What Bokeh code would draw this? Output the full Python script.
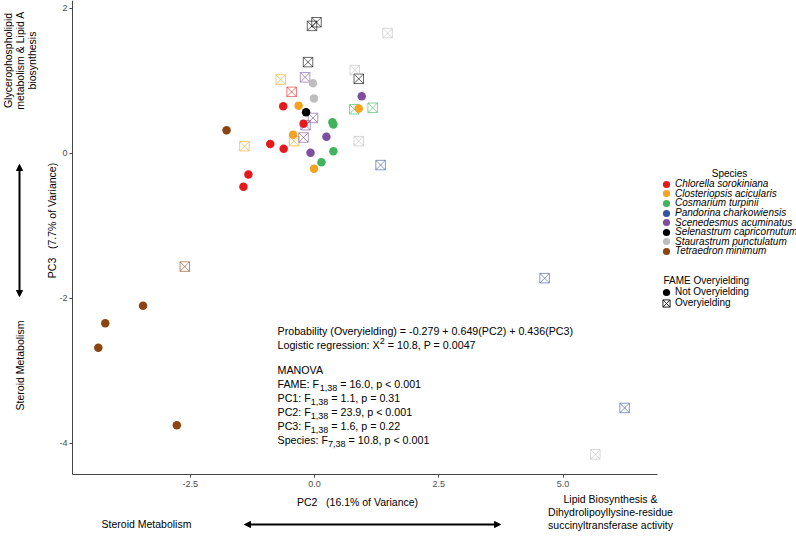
import math
from bokeh.plotting import figure
from bokeh.models import (Range1d, FixedTicker, Label, Arrow, NormalHead, Legend,
                          LegendItem, ColumnDataSource)
from bokeh.transform import factor_cmap
from bokeh.embed import file_html
from bokeh.resources import INLINE

# ---------------- data ----------------
species = ["Chlorella sorokiniana", "Closteriopsis acicularis", "Cosmarium turpinii",
           "Pandorina charkowiensis", "Scenedesmus acuminatus", "Selenastrum capricornutum",
           "Staurastrum punctulatum", "Tetraedron minimum"]
species_colors = ["#E41A1C", "#F4A321", "#41B35D", "#3953A4", "#7E4FA0", "#000000",
                  "#BEBEBE", "#8B4513"]

# Not overyielding (filled circles)
not_species = (["Chlorella sorokiniana"] * 6 + ["Closteriopsis acicularis"] * 4 +
               ["Cosmarium turpinii"] * 4 + ["Scenedesmus acuminatus"] * 3 +
               ["Selenastrum capricornutum"] * 1 + ["Staurastrum punctulatum"] * 2 +
               ["Tetraedron minimum"] * 5)
not_pc2 = [-0.63, -0.89, -0.62, -1.33, -1.43, -0.22,
           -0.32, 0.89, -0.43, -0.01,
           0.36, 0.38, 0.38, 0.14,
           0.95, 0.24, -0.08,
           -0.17,
           -0.03, -0.01,
           -1.77, -3.45, -4.21, -4.35, -2.77]
not_pc3 = [0.65, 0.13, 0.065, -0.29, -0.46, 0.41,
           0.66, 0.62, 0.26, -0.21,
           0.43, 0.40, 0.03, -0.12,
           0.79, 0.23, 0.01,
           0.57,
           0.97, 0.76,
           0.32, -2.10, -2.34, -2.68, -3.75]

# Overyielding (crossed squares)
over_species = (["Chlorella sorokiniana"] * 1 + ["Closteriopsis acicularis"] * 3 +
                ["Cosmarium turpinii"] * 2 + ["Pandorina charkowiensis"] * 3 +
                ["Scenedesmus acuminatus"] * 4 + ["Selenastrum capricornutum"] * 4 +
                ["Staurastrum punctulatum"] * 4 + ["Tetraedron minimum"] * 1)
over_pc2 = [-0.46,
            -0.68, -1.41, -0.41,
            0.80, 1.17,
            1.33, 4.63, 6.24,
            -0.19, -0.03, -0.22, -0.18,
            -0.05, 0.04, -0.13, 0.89,
            1.47, 0.81, 0.89, 5.65,
            -2.61]
over_pc3 = [0.85,
            1.02, 0.10, 0.17,
            0.61, 0.63,
            -0.16, -1.72, -3.51,
            1.05, 0.49, 0.22, 0.39,
            1.76, 1.81, 1.26, 1.03,
            1.66, 1.15, 0.17, -4.15,
            -1.56]

x_ticks = [-2.5, 0.0, 2.5, 5.0]
x_tick_labels = ["-2.5", "0.0", "2.5", "5.0"]
y_ticks = [-4, -2, 0, 2]
y_tick_labels = ["-4", "-2", "0", "2"]

fame_labels = ["Not Overyielding", "Overyielding"]

# ---------------- figure ----------------
FONT = "Liberation Sans"
W, H = 796, 540
# axis extents of the reference panel
X_MIN, X_MAX = -4.87, 6.90
Y_MIN, Y_MAX = -4.43, 2.11

p = figure(width=W, height=H, output_backend="svg", toolbar_location=None,
           x_range=Range1d(-6.318, 9.698), y_range=Range1d(-5.338, 2.110),
           min_border_left=0, min_border_right=0, min_border_top=0,
           min_border_bottom=0)
p.grid.visible = False
p.outline_line_color = None
p.background_fill_color = "white"
p.border_fill_color = "white"

p.xaxis.fixed_location = Y_MIN
p.xaxis.bounds = (X_MIN, X_MAX)
p.yaxis.fixed_location = X_MIN
p.yaxis.bounds = (Y_MIN, Y_MAX)

for ax in (p.xaxis[0], p.yaxis[0]):
    ax.axis_line_color = "#444444"
    ax.axis_line_width = 1
    ax.major_tick_line_color = "#444444"
    ax.major_tick_out = 3
    ax.major_tick_in = 0
    ax.minor_tick_out = 0
    ax.minor_tick_in = 0
    ax.major_label_text_font_size = "9px"
    ax.major_label_text_color = "#4D4D4D"
    ax.major_label_text_font = FONT
    ax.major_label_standoff = 3

p.xaxis.ticker = FixedTicker(ticks=x_ticks)
p.xaxis.major_label_overrides = dict(zip(x_ticks, x_tick_labels))
p.yaxis.ticker = FixedTicker(ticks=y_ticks)
p.yaxis.major_label_overrides = dict(zip(y_ticks, y_tick_labels))
p.yaxis.major_label_standoff = 2

cmap = factor_cmap("species", palette=species_colors, factors=species)

src_over = ColumnDataSource(dict(x=over_pc2, y=over_pc3, species=over_species))
src_not = ColumnDataSource(dict(x=not_pc2, y=not_pc3, species=not_species))

p.scatter("x", "y", source=src_over, marker="square_x", size=9.5, fill_color=None,
          line_color=cmap, line_alpha=0.6, line_width=1)
p.scatter("x", "y", source=src_not, marker="circle", size=8.5, fill_color=cmap,
          line_color=None)

# ---------------- legends (one Legend per row, keys from hidden renderers) -------
leg_style = dict(orientation="vertical", glyph_width=18, glyph_height=18, label_height=18,
                 padding=0, margin=0, label_standoff=0, label_text_font_size="10px",
                 label_text_font=FONT, label_text_color="black", border_line_color=None,
                 background_fill_alpha=0, click_policy="none")
LEG_X = 657          # left edge of the key box (page px)


def legend_row(label, renderer, yc, italic):
    leg = Legend(items=[LegendItem(label=label, renderers=[renderer])],
                 location=(LEG_X, H - yc - 9),
                 label_text_font_style="italic" if italic else "normal", **leg_style)
    p.add_layout(leg)


for k, (name, col) in enumerate(zip(species, species_colors)):
    r = p.scatter("x", "y", source=src_not, marker="circle", size=8, fill_color=col,
                  line_color=None, visible=False)
    legend_row(name, r, 183.7 + 9.6 * k, True)

r_not = p.scatter("x", "y", source=src_not, marker="circle", size=8, fill_color="black",
                  line_color=None, visible=False)
r_over = p.scatter("x", "y", source=src_over, marker="square_x", size=8, fill_color=None,
                   line_color="#222222", line_width=1, visible=False)
legend_row(fame_labels[0], r_not, 291.7, False)
legend_row(fame_labels[1], r_over, 302.7, False)

# ---------------- text helpers ----------------
AW = {' ': 278, '(': 333, ')': 333, ',': 278, '-': 333, '.': 278, ':': 278, '<': 584,
      '=': 584, '+': 584, 'A': 667, 'C': 722, 'E': 667, 'F': 611, 'M': 833, 'N': 722,
      'O': 778, 'P': 667, 'S': 667, 'V': 667, 'X': 667, 'L': 556,
      'a': 556, 'b': 556, 'c': 500, 'd': 556, 'e': 556, 'g': 556, 'i': 222, 'l': 222,
      'n': 556, 'o': 556, 'p': 556, 'r': 333, 's': 500, 't': 278, 'y': 500, 'v': 500}


def tw(s, size):
    return sum(AW.get(c, 556) for c in s) * size / 1000.0


def lab(text, X, Y, size, align="left", angle=0.0, style="normal", color="black"):
    p.add_layout(Label(x=X, y=H - Y, x_units="screen", y_units="screen", text=text,
                       text_align=align, text_baseline="middle",
                       text_font_size=f"{size}px", text_font=FONT, text_font_style=style,
                       angle=angle, text_color=color))


def seg(parts, X, Y):
    """parts: list of (text, size, dy); leading spaces become offsets."""
    x = X
    for text, size, dy in parts:
        lead = len(text) - len(text.lstrip(" "))
        x += tw(" " * lead, size)
        body = text.lstrip(" ")
        lab(body, x, Y + dy, size)
        x += tw(body, size)


# legend titles
lab("Species", 729, 173, 10, align="center")
lab("FAME Overyielding", 663, 280, 10)

# statistics block
MS, SS = 10.7, 9.0
x0 = 277
lab("Probability (Overyielding) = -0.279 + 0.649(PC2) + 0.436(PC3)", x0, 330, MS)
seg([("Logistic regression: X", MS, 0), ("2", SS, -4), (" = 10.8, P = 0.0047", MS, 0)],
    x0, 344.5)
lab("MANOVA", x0, 369, MS)

stat_rows = [("FAME: F", "1,38", " = 16.0, p < 0.001"),
             ("PC1: F", "1,38", " = 1.1, p = 0.31"),
             ("PC2: F", "1,38", " = 23.9, p < 0.001"),
             ("PC3: F", "1,38", " = 1.6, p = 0.22"),
             ("Species: F", "7,38", " = 10.8, p < 0.001")]
for i, (a, b, c) in enumerate(stat_rows):
    seg([(a, MS, 0), (b, SS, 4), (c, MS, 0)], x0, 383 + 14 * i)

NB = "\u00a0"
# axis titles
lab("PC2" + NB * 3 + "(16.1% of Variance)", 357, 501, 10.5, align="center")
lab("PC3" + NB * 3 + "(7.7% of Variance)", 51, 220, 10.5, align="center",
    angle=math.pi / 2)

# bottom annotation
lab("Steroid Metabolism", 146, 523, 10.5, align="center")
for k, t in enumerate(["Lipid Biosynthesis &", "Dihydrolipoyllysine-residue",
                       "succinyltransferase activity"]):
    lab(t, 610, 498 + 13 * k, 10.5, align="center")

# left annotation
for k, t in enumerate(["Glycerophospholipid", "metabolism & Lipid A", "biosynthesis"]):
    lab(t, 7 + 12 * k, 60, 10.5, align="center", angle=math.pi / 2)
lab("Steroid Metabolism", 19, 365, 10.5, align="center", angle=math.pi / 2)


# arrows
def arrow(xs, ys, xe, ye):
    p.add_layout(Arrow(start=NormalHead(size=6, fill_color="black", line_color="black"),
                       end=NormalHead(size=6, fill_color="black", line_color="black"),
                       x_start=xs, y_start=H - ys, x_end=xe, y_end=H - ye,
                       start_units="screen", end_units="screen", line_width=2,
                       line_color="black"))


arrow(244, 524, 500, 524)
arrow(19, 164, 19, 296)

open("out.html", "w").write(file_html(p, INLINE))
